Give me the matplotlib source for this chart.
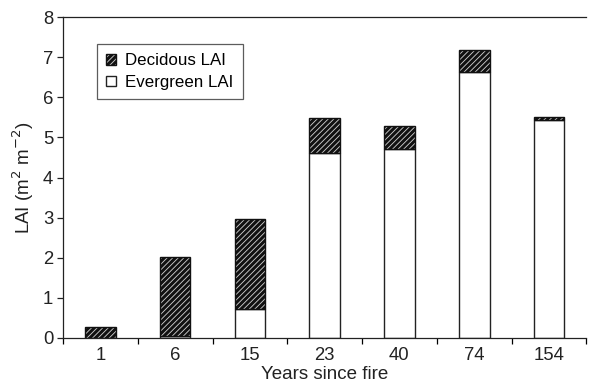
import matplotlib
matplotlib.use("Agg")
import matplotlib.pyplot as plt
import numpy as np

plt.rcParams['font.family'] = ['Liberation Sans', 'DejaVu Sans']
plt.rcParams['hatch.linewidth'] = 2.2
plt.rcParams['hatch.color'] = '#1a1a1a'

years = ['1', '6', '15', '23', '40', '74', '154']
evergreen = [0.0, 0.04, 0.73, 4.60, 4.71, 6.64, 5.43]
total = [0.28, 2.02, 2.97, 5.48, 5.29, 7.18, 5.50]
deciduous = [t - e for t, e in zip(total, evergreen)]

fig = plt.figure(figsize=(5.92, 3.90), dpi=100)
ax = fig.add_axes([0.1064, 0.134, 0.884, 0.8216])

x = np.arange(len(years))
w = 0.41
ax.bar(x, evergreen, w, color='white', edgecolor='#222222', linewidth=1.0,
       label='Evergreen LAI')
ax.bar(x, deciduous, w, bottom=evergreen, color='#cfcfcf', edgecolor='#111111',
       linewidth=1.0, hatch='//////', label='Decidous LAI')

ax.set_xlim(-0.5, len(years) - 0.5)
ax.set_ylim(0, 8)
ax.set_xticks(x)
ax.set_xticklabels(years)
ax.set_xticks(np.arange(len(years) + 1) - 0.5, minor=True)
ax.tick_params(axis='x', which='major', length=0, pad=7, labelsize=13.3, colors='#222222')
ax.tick_params(axis='x', which='minor', length=4, direction='out', width=0.9)
ax.tick_params(axis='y', length=4, width=0.9, pad=3, labelsize=13.3, colors='#222222')
ax.set_yticks(range(0, 9))

ax.spines['right'].set_visible(False)
for s in ['left', 'bottom', 'top']:
    ax.spines[s].set_linewidth(0.9)
    ax.spines[s].set_color('#222222')

ax.set_xlabel('Years since fire', fontsize=13.5, color='#222222', labelpad=1)
ax.set_ylabel('LAI (m$^2$ m$^{-2}$)', fontsize=13.5, color='#222222', labelpad=5)

handles, labels = ax.get_legend_handles_labels()
leg = ax.legend(handles[::-1], labels[::-1], loc='upper left',
                bbox_to_anchor=(0.065, 0.917), borderaxespad=0, fontsize=12.2,
                frameon=True, fancybox=False, edgecolor='#333333',
                handlelength=0.6, handleheight=0.6, handletextpad=0.5,
                borderpad=0.55, labelspacing=0.4)
leg.get_frame().set_linewidth(0.9)

fig.savefig('out.png', dpi=100)
